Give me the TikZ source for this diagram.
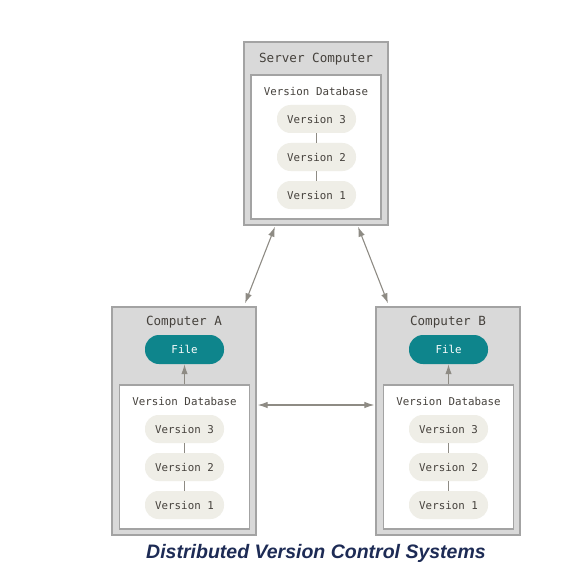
\documentclass[tikz,border=0pt]{standalone}
\usepackage{fontspec}
\setmainfont{Liberation Sans}
\newfontfamily\monof{DejaVu Sans Mono}
\usetikzlibrary{arrows.meta,calc}
\definecolor{outerfill}{HTML}{D9D9D9}
\definecolor{outerline}{HTML}{A3A3A3}
\definecolor{pillfill}{HTML}{EFEEE7}
\definecolor{txt}{HTML}{45413C}
\definecolor{teal}{HTML}{0E858C}
\definecolor{arrowc}{HTML}{8E8B84}
\definecolor{navy}{HTML}{1D2B55}
\tikzset{
  outerbox/.style={draw=outerline, fill=outerfill, line width=1.3pt, minimum width=144pt, inner sep=0pt},
  innerbox/.style={draw=outerline, fill=white, line width=1.1pt, minimum width=130pt, minimum height=144pt, inner sep=0pt},
  titletxt/.style={font=\monof\fontsize{12.6}{14}\selectfont, text=txt, inner sep=0pt},
  dbtxt/.style={font=\monof\fontsize{10.8}{12}\selectfont, text=txt, inner sep=0pt},
  pill/.style={fill=pillfill, rounded corners=13.5pt, minimum width=79pt, minimum height=28pt, inner sep=0pt, font=\monof\fontsize{10.8}{12}\selectfont, text=txt},
  filepill/.style={fill=teal, rounded corners=14pt, minimum width=79pt, minimum height=29pt, inner sep=0pt, font=\monof\fontsize{10.8}{12}\selectfont, text=white},
  vline/.style={draw=arrowc, line width=0.8pt},
  arr/.style={draw=arrowc, line width=1.1pt, {Latex[length=10pt,width=6.5pt]}-{Latex[length=10pt,width=6.5pt]}},
  onearr/.style={draw=arrowc, line width=1.1pt, -{Latex[length=10pt,width=6.5pt]}}
}
\begin{document}
\begin{tikzpicture}[x=1pt,y=-1pt]
\useasboundingbox (0,0) rectangle (569,572);
% Server
\node[outerbox, minimum height=183pt] (srv) at (316,133.5) {};
\node[titletxt] (srvt) at (316,59) {Server Computer};
\node[innerbox] (srvdb) at (316,147) {};
\node[dbtxt] (srvdbt) at (316,91) {Version Database};
\node[pill] (s3) at (316.5,119) {Version 3};
\node[pill] (s2) at (316.5,157) {Version 2};
\node[pill] (s1) at (316.5,195) {Version 1};
\draw[vline] (s3) -- (s2);
\draw[vline] (s2) -- (s1);
% Computer A
\node[outerbox, minimum height=228pt] (ca) at (184,421) {};
\node[titletxt] (cat) at (184,322) {Computer A};
\node[filepill] (fa) at (184.5,349.5) {File};
\node[innerbox] (cadb) at (184.5,457) {};
\node[dbtxt] (cadbt) at (184.5,401) {Version Database};
\node[pill] (a3) at (184.5,429) {Version 3};
\node[pill] (a2) at (184.5,467) {Version 2};
\node[pill] (a1) at (184.5,505) {Version 1};
\draw[vline] (a3) -- (a2);
\draw[vline] (a2) -- (a1);
\draw[onearr] (cadb.north) -- (fa.south);
% Computer B
\node[outerbox, minimum height=228pt] (cb) at (448,421) {};
\node[titletxt] (cbt) at (448,322) {Computer B};
\node[filepill] (fb) at (448.5,349.5) {File};
\node[innerbox] (cbdb) at (448.5,457) {};
\node[dbtxt] (cbdbt) at (448.5,401) {Version Database};
\node[pill] (b3) at (448.5,429) {Version 3};
\node[pill] (b2) at (448.5,467) {Version 2};
\node[pill] (b1) at (448.5,505) {Version 1};
\draw[vline] (b3) -- (b2);
\draw[vline] (b2) -- (b1);
\draw[onearr] (cbdb.north) -- (fb.south);
% connectors
\coordinate (sl) at ($(srv.south)+(-41,1)$);
\coordinate (sr) at ($(srv.south)+(42,1)$);
\coordinate (al) at ($(ca.north)+(61,-3)$);
\coordinate (br) at ($(cb.north)+(-60,-3)$);
\draw[arr] (sl) -- (al);
\draw[arr] (sr) -- (br);
\draw[arr] ($(ca.east)+(1,-16)$) -- ($(cb.west)+(-1,-16)$);
% caption
\node[font=\bfseries\itshape\fontsize{19.5}{22}\selectfont, text=navy, inner sep=0pt] (cap) at (316,553) {Distributed Version Control Systems};
\end{tikzpicture}
\end{document}
